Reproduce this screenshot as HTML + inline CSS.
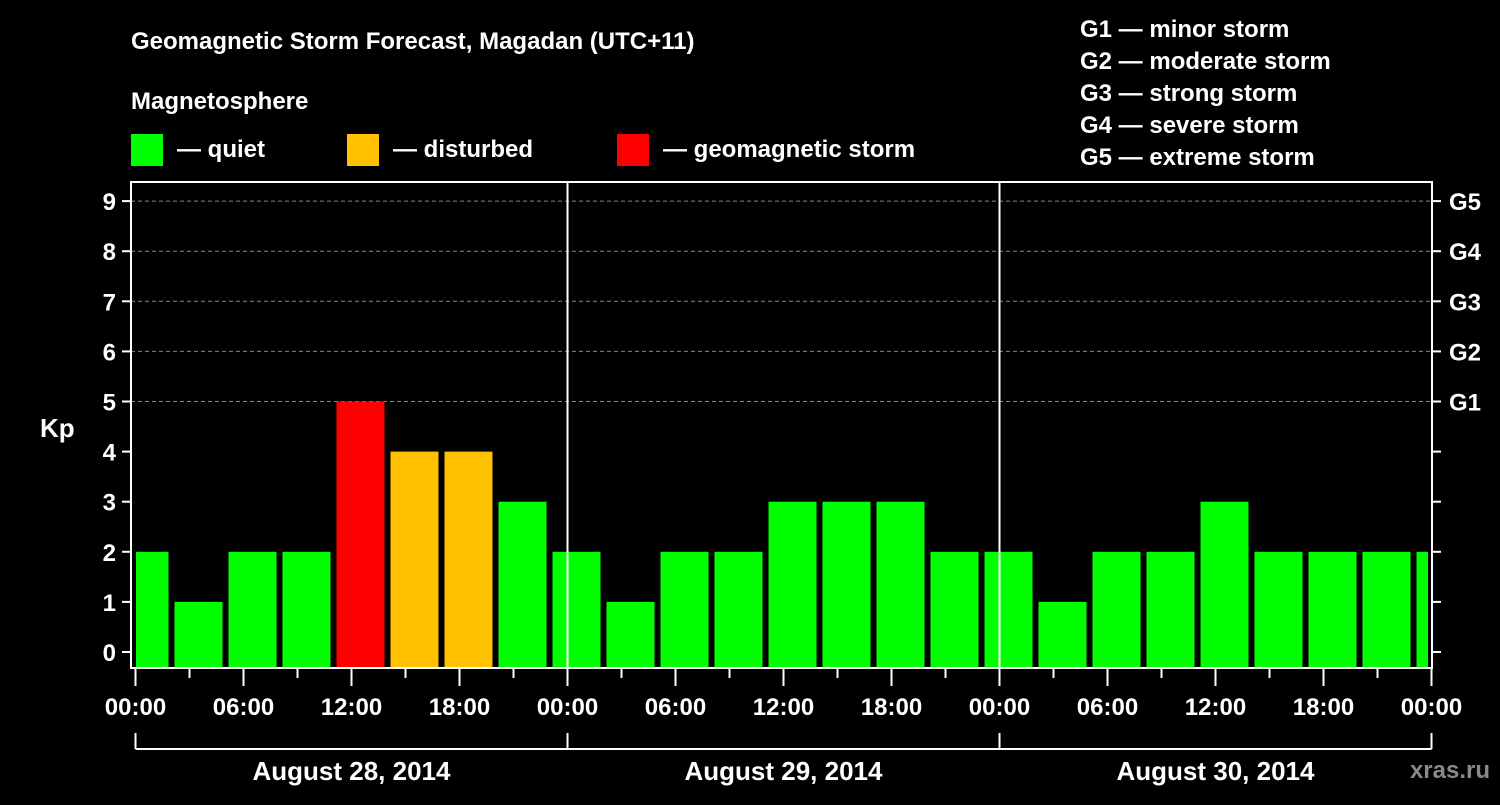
<!DOCTYPE html>
<html><head><meta charset="utf-8">
<style>
body{margin:0;background:#000;width:1500px;height:800px;overflow:hidden;font-family:"Liberation Sans",sans-serif;}
svg text{font-family:"Liberation Sans",sans-serif;font-weight:bold;fill:#fff;}
</style></head>
<body>
<svg id="chart" width="1500" height="800">
<defs><clipPath id="pc"><rect x="136" y="182" width="1292" height="486"/></clipPath></defs>
<text x="131" y="49" font-size="24">Geomagnetic Storm Forecast, Magadan (UTC+11)</text>
<text x="131" y="109" font-size="24">Magnetosphere</text>
<g><rect x="131" y="134" width="32" height="32" fill="#00ff00"/><text x="177" y="157" font-size="24">— quiet</text></g>
<g><rect x="347" y="134" width="32" height="32" fill="#ffc000"/><text x="393" y="157" font-size="24">— disturbed</text></g>
<g><rect x="617" y="134" width="32" height="32" fill="#ff0000"/><text x="663" y="157" font-size="24">— geomagnetic storm</text></g>
<g font-size="24">
<text x="1080" y="37">G1 — minor storm</text>
<text x="1080" y="69">G2 — moderate storm</text>
<text x="1080" y="101">G3 — strong storm</text>
<text x="1080" y="133">G4 — severe storm</text>
<text x="1080" y="165">G5 — extreme storm</text>
</g>
<text x="40" y="437" font-size="26">Kp</text>
<text x="1490" y="778" font-size="24" text-anchor="end" fill="#888" style="fill:#8a8a8a">xras.ru</text>
<g id="grid"></g>
<g id="bars" clip-path="url(#pc)"></g>
<g id="axes"></g>
</svg>
<script>
const kpValues=[2,1,2,2,5,4,4,3, 2,1,2,2,3,3,3,2, 2,1,2,2,3,2,2,2,2];
const yTicks=[0,1,2,3,4,5,6,7,8,9];
const gLabels=["","","","","","G1","G2","G3","G4","G5"];
const xLabels=["00:00","06:00","12:00","18:00","00:00","06:00","12:00","18:00","00:00","06:00","12:00","18:00","00:00"];
const dayLabels=["August 28, 2014","August 29, 2014","August 30, 2014"];
const NS="http://www.w3.org/2000/svg";
const X0=135.5,PXH=18,Y0=652,PXU=50.1;
const xs=h=>X0+h*PXH, ys=v=>Y0-v*PXU;
function mk(tag,at,parent){const e=document.createElementNS(NS,tag);for(const k in at)e.setAttribute(k,at[k]);parent.appendChild(e);return e;}
const grid=document.getElementById('grid'),bars=document.getElementById('bars'),axes=document.getElementById('axes');
yTicks.forEach(v=>{
 if(v>=5){const l=mk('line',{x1:131,x2:1432,y1:ys(v),y2:ys(v),stroke:'#888','stroke-dasharray':'4,3','stroke-width':1},grid);
 
 }
 const t=mk('line',{x1:122,x2:131,y1:ys(v),y2:ys(v),stroke:'#fff','stroke-width':2},axes);
 
 
 const t2=mk('line',{x1:1432,x2:1441,y1:ys(v),y2:ys(v),stroke:'#fff','stroke-width':2},axes);
 
 
 const tx=mk('text',{x:116,y:ys(v)+9,'font-size':24,'text-anchor':'end'},axes);tx.textContent=v;
 
 
 if(gLabels[v]){const g=mk('text',{x:1449,y:ys(v)+9,'font-size':24},axes);g.textContent=gLabels[v];
 
 }
});
kpValues.forEach((v,i)=>{
 const c=xs(3*i+0.5);
 const col=v>=5?'#ff0000':(v>=4?'#ffc000':'#00ff00');
 const r=mk('rect',{x:c-24,width:48,y:ys(v),height:668-ys(v),fill:col},bars);
 
 
});
const fr=mk('rect',{x:131,y:182,width:1301,height:486,fill:'none',stroke:'#fff','stroke-width':2},axes);


[1,2].forEach(d=>{const l=mk('line',{x1:xs(24*d),x2:xs(24*d),y1:182,y2:668,stroke:'#fff','stroke-width':2},axes);
 
 });
for(let h=0;h<=72;h+=3){const major=h%6===0;
 const t=mk('line',{x1:xs(h),x2:xs(h),y1:669,y2:major?686:678,stroke:'#fff','stroke-width':2},axes);
 
 }
xLabels.forEach((s,i)=>{const t=mk('text',{x:xs(6*i),y:715,'font-size':24,'text-anchor':'middle'},axes);t.textContent=s;
 
 });
mk('line',{x1:xs(0),x2:xs(72),y1:749,y2:749,stroke:'#fff','stroke-width':2},axes);
for(let d=0;d<=3;d++){const l=mk('line',{x1:xs(24*d),x2:xs(24*d),y1:733,y2:749,stroke:'#fff','stroke-width':2},axes);
 
 }
dayLabels.forEach((s,i)=>{const t=mk('text',{x:xs(24*i+12),y:780,'font-size':26,'text-anchor':'middle'},axes);t.textContent=s;
 
 });
</script>
</body></html>
